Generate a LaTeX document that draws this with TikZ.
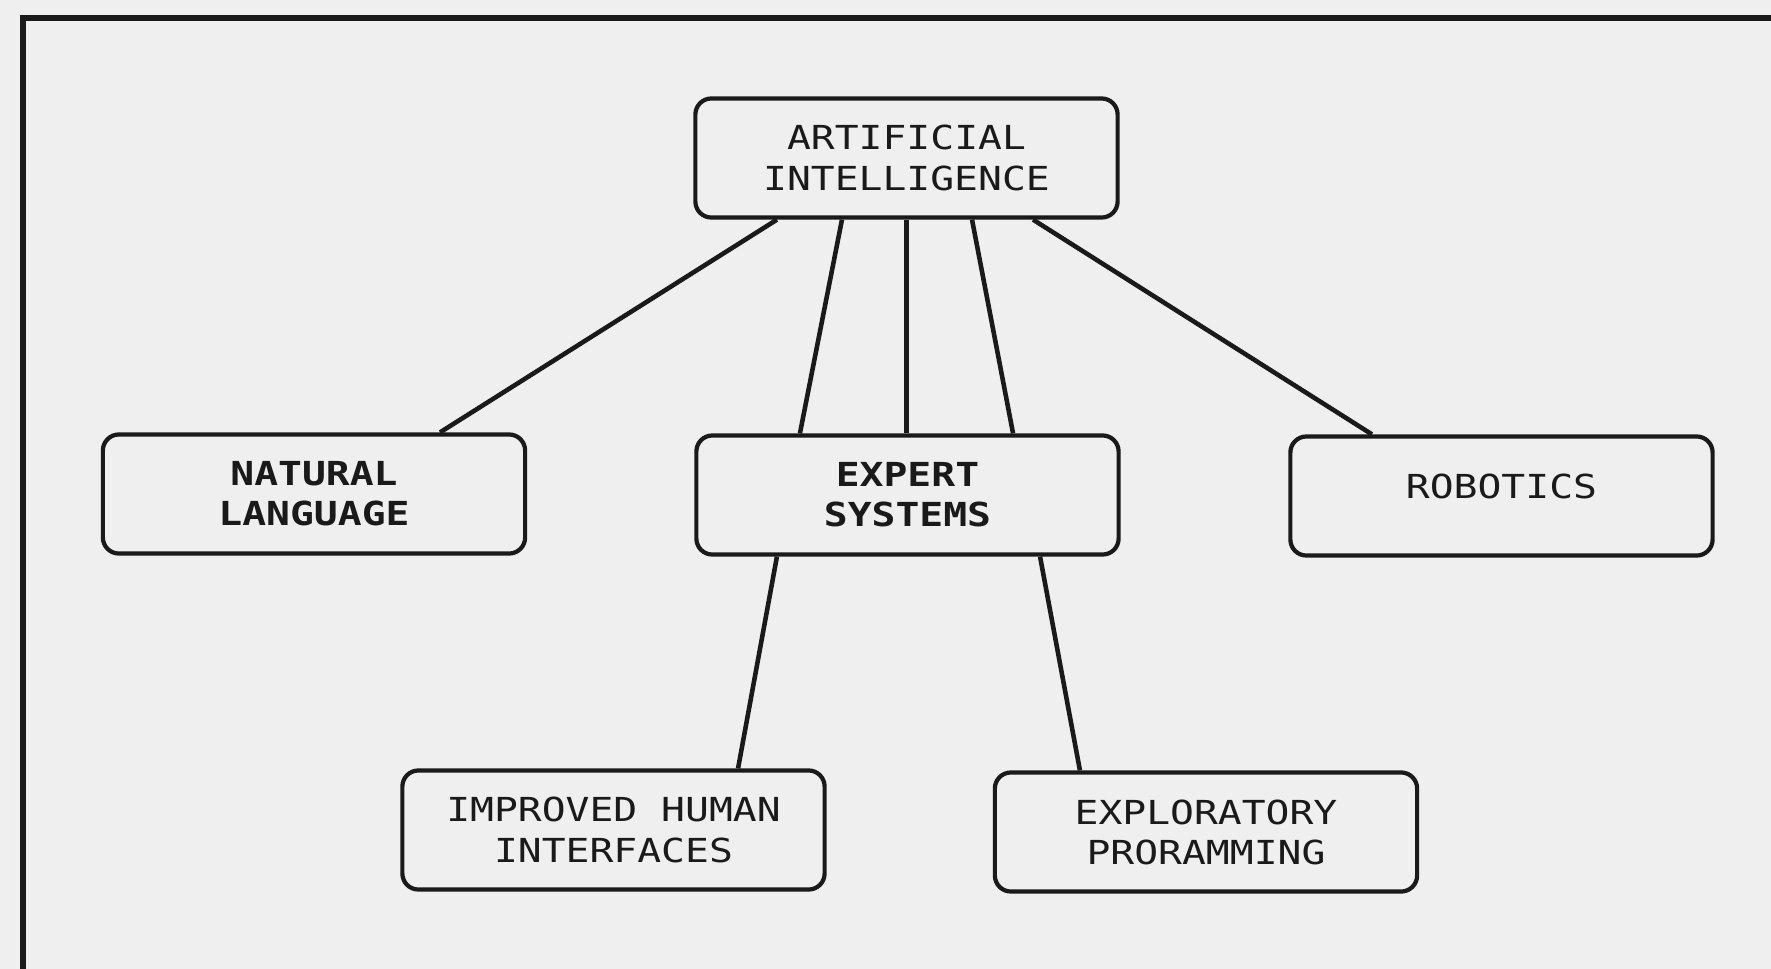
\documentclass[tikz,border=0pt]{standalone}
\usepackage{fontspec}
\newfontfamily\plotfont{DejaVu Sans Mono}[FakeStretch=1.2]
\definecolor{paper}{HTML}{EFEFEF}
\definecolor{ink}{HTML}{1A1A1A}
\tikzset{
  topic/.style={draw=ink, line width=1.2pt, rounded corners=0.16cm, fill=paper,
    minimum width=4.22cm, minimum height=1.19cm, align=center, inner sep=0pt,
    text=ink, font=\plotfont\fontsize{9.4}{11.4}\selectfont},
  heavy/.style={font=\plotfont\bfseries\fontsize{9.4}{11.4}\selectfont},
  link/.style={draw=ink, line width=1.3pt},
  frameline/.style={draw=ink, line width=1.6pt}
}
\begin{document}
\begin{tikzpicture}[x=0.01cm, y=-0.01cm]
  \useasboundingbox (0,0) rectangle (1771,969);
  \fill[paper] (0,0) rectangle (1771,969);
  % outer frame, top and left edges
  \draw[frameline] (23,969) -- (23,18) -- (1771,18);

  % boxes
  \node[topic] (ai) at (906.5,158) {ARTIFICIAL\\INTELLIGENCE};
  \node[topic, heavy] (nl) at (314,494) {NATURAL\\LANGUAGE};
  \node[topic, heavy] (es) at (907.5,495) {EXPERT\\SYSTEMS};
  \node[topic] (rb) at (1501.5,496) {\raisebox{0.2cm}{ROBOTICS}};
  \node[topic] (ih) at (613.5,830) {IMPROVED HUMAN\\INTERFACES};
  \node[topic] (ep) at (1206,832) {EXPLORATORY\\PRORAMMING};

  % connectors from the top box
  \draw[link] ([xshift=-1.295cm]ai.south) -- ([xshift=1.26cm]nl.north);
  \draw[link] ([xshift=-0.645cm]ai.south) -- ([xshift=-1.075cm]es.north);
  \draw[link, line width=1.6pt] (ai.south) -- (ai.south |- es.north);
  \draw[link] ([xshift=0.655cm]ai.south) -- ([xshift=1.055cm]es.north);
  \draw[link] ([xshift=1.265cm]ai.south) -- ([xshift=-1.295cm]rb.north);

  % connectors from expert systems
  \draw[link] ([xshift=-1.305cm]es.south) -- ([xshift=1.245cm]ih.north);
  \draw[link] ([xshift=1.325cm]es.south) -- ([xshift=-1.26cm]ep.north);
\end{tikzpicture}
\end{document}
